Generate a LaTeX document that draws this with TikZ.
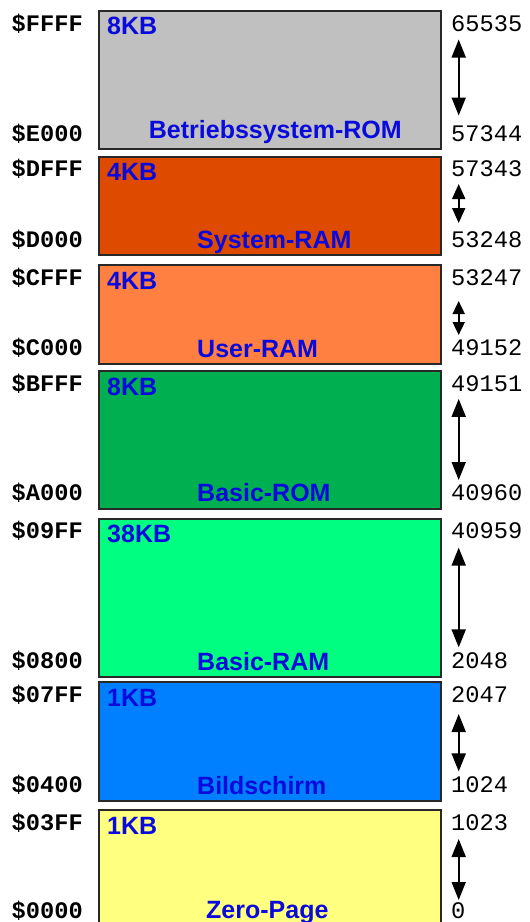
\documentclass[tikz,border=0pt]{standalone}
\usepackage{fontspec}
\setmainfont{Liberation Sans}
\newfontfamily\monofnt{Liberation Mono}
\usetikzlibrary{arrows.meta}
\definecolor{romgray}{RGB}{192,192,192}
\definecolor{sysram}{RGB}{222,74,0}
\definecolor{userram}{RGB}{255,128,64}
\definecolor{basrom}{RGB}{0,176,80}
\definecolor{basram}{RGB}{0,255,128}
\definecolor{screen}{RGB}{0,128,255}
\definecolor{zeropg}{RGB}{255,255,128}
\definecolor{txtblue}{RGB}{10,10,220}
\definecolor{edge}{RGB}{40,40,40}
\tikzset{
  blk/.style={draw=edge, line width=2pt, rectangle, anchor=north west, inner sep=0pt, minimum width=342pt},
  kb/.style={font=\fontsize{25}{25}\selectfont\bfseries, text=txtblue, inner sep=0pt, anchor=base west},
  hexl/.style={font=\monofnt\fontsize{23.7}{24}\selectfont\bfseries, inner sep=0pt, anchor=base east},
  decl/.style={font=\monofnt\fontsize{23.7}{24}\selectfont, inner sep=0pt, anchor=base west},
  dbl/.style={line width=1.8pt, {Triangle[length=18pt,width=14pt]}-{Triangle[length=18pt,width=14pt]}},
  dbls/.style={line width=1.8pt, {Triangle[length=15pt,width=13pt]}-{Triangle[length=15pt,width=13pt]}},
  dblxs/.style={line width=1.8pt, {Triangle[length=13pt,width=12pt]}-{Triangle[length=13pt,width=12pt]}}
}
\begin{document}
\begin{tikzpicture}[x=1pt,y=-1pt]
\useasboundingbox (0,0) rectangle (530,922);
% boxes
\node[blk, fill=romgray, minimum height=138.5pt] (b1) at (98,9.5) {};
\node[blk, fill=sysram,  minimum height=98.4pt]  (b2) at (98,155.9) {};
\node[blk, fill=userram, minimum height=98.7pt]  (b3) at (98,264.4) {};
\node[blk, fill=basrom,  minimum height=138pt]   (b4) at (98,370.1) {};
\node[blk, fill=basram,  minimum height=158.2pt] (b5) at (98,517.9) {};
\node[blk, fill=screen,  minimum height=118.3pt] (b6) at (98,681.2) {};
\node[blk, fill=zeropg,  minimum height=122pt]   (b7) at (98,809.3) {};
% sizes
\node[kb] (k1) at (107,34.4) {8KB};
\node[kb] (k2) at (107,180.9) {4KB};
\node[kb] (k3) at (107,289.4) {4KB};
\node[kb] (k4) at (107,395.1) {8KB};
\node[kb] (k5) at (107,542.9) {38KB};
\node[kb] (k6) at (107,706.2) {1KB};
\node[kb] (k7) at (107,834.3) {1KB};
% names
\node[kb] (n1) at (148.7,138.3) {Betriebssystem-ROM};
\node[kb] (n2) at (197,248.7) {System-RAM};
\node[kb] (n3) at (197,357) {User-RAM};
\node[kb] (n4) at (197,501.7) {Basic-ROM};
\node[kb] (n5) at (197,670.7) {Basic-RAM};
\node[kb] (n6) at (197,794.8) {Bildschirm};
\node[kb] (n7) at (206,918.5) {Zero-Page};
% hex addresses
\node[hexl] (h1a) at (83,31.2) {\$FFFF};
\node[hexl] (h1b) at (83,141) {\$E000};
\node[hexl] (h2a) at (83,176.5) {\$DFFF};
\node[hexl] (h2b) at (83,247) {\$D000};
\node[hexl] (h3a) at (83,285) {\$CFFF};
\node[hexl] (h3b) at (83,355.6) {\$C000};
\node[hexl] (h4a) at (83,391) {\$BFFF};
\node[hexl] (h4b) at (83,500.6) {\$A000};
\node[hexl] (h5a) at (83,538.5) {\$09FF};
\node[hexl] (h5b) at (83,668.6) {\$0800};
\node[hexl] (h6a) at (83,702) {\$07FF};
\node[hexl] (h6b) at (83,792) {\$0400};
\node[hexl] (h7a) at (83,830) {\$03FF};
\node[hexl] (h7b) at (83,918) {\$0000};
% decimal addresses
\node[decl] (d1a) at (451,31.2) {65535};
\node[decl] (d1b) at (451,141) {57344};
\node[decl] (d2a) at (451,176.5) {57343};
\node[decl] (d2b) at (451,247) {53248};
\node[decl] (d3a) at (451,285) {53247};
\node[decl] (d3b) at (451,355.6) {49152};
\node[decl] (d4a) at (451,391) {49151};
\node[decl] (d4b) at (451,500.6) {40960};
\node[decl] (d5a) at (451,538.5) {40959};
\node[decl] (d5b) at (451,668.6) {2048};
\node[decl] (d6a) at (451,702) {2047};
\node[decl] (d6b) at (451,792) {1024};
\node[decl] (d7a) at (451,830) {1023};
\node[decl] (d7b) at (451,918) {0};
% arrow endpoints
\coordinate (a1t) at (458.7,39.5);  \coordinate (a1b) at (458.7,115.5);
\coordinate (a2t) at (458.7,184);   \coordinate (a2b) at (458.7,223);
\coordinate (a3t) at (458.7,301);   \coordinate (a3b) at (458.7,335);
\coordinate (a4t) at (458.7,398.9); \coordinate (a4b) at (458.7,480);
\coordinate (a5t) at (458.7,547.6); \coordinate (a5b) at (458.7,647.4);
\coordinate (a6t) at (458.7,714);   \coordinate (a6b) at (458.7,771.4);
\coordinate (a7t) at (458.7,839);   \coordinate (a7b) at (458.7,900);
\draw[dbl] (a1t) -- (a1b);
\draw[dbls] (a2t) -- (a2b);
\draw[dblxs] (a3t) -- (a3b);
\draw[dbl] (a4t) -- (a4b);
\draw[dbl] (a5t) -- (a5b);
\draw[dbl] (a6t) -- (a6b);
\draw[dbl] (a7t) -- (a7b);
\end{tikzpicture}
\end{document}
